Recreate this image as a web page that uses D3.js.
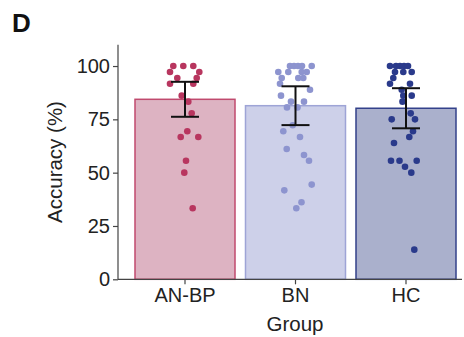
<!DOCTYPE html>
<html><head><meta charset="utf-8">
<script src="https://cdn.jsdelivr.net/npm/d3@7"></script>
<style>body{margin:0;background:#fff}svg{display:block}text{font-family:"Liberation Sans",Arial,sans-serif}</style>
</head><body>
<script>
const groups = ["AN-BP", "BN", "HC"];
const means = [84.4, 81.4, 80.2];
const sds = [8.2, 9.1, 9.4];
const yTicks = [0, 25, 50, 75, 100];
// individual accuracies and horizontal jitter (fraction of bar width)
const ptsANBP = [100,100,100,97.2,97.2,94.4,94.4,91.7,91.7,86.1,83.3,77.8,69.4,66.7,66.7,55.6,50,33.3];
const jitANBP = [-0.117,-0.017,0.083,-0.15,0.143,-0.077,0.117,-0.15,0.083,-0.033,0.033,0.067,0.023,-0.043,0.133,0.01,-0.007,0.077];
const ptsBN = [100,100,100,100,100,97.2,97.2,97.2,97.2,94.4,94.4,94.4,91.7,88.9,86.1,83.3,83.3,80.6,80.6,72.2,69.4,66.7,61.1,58.3,55.6,44.4,41.7,36.1,33.3];
const jitBN = [-0.055,-0.015,0.025,0.065,0.162,-0.172,-0.072,0.062,0.112,-0.138,0.028,0.078,-0.155,0.145,-0.145,-0.045,0.085,-0.085,0.02,-0.028,-0.122,0.045,-0.088,0.085,0.135,0.162,-0.112,0.06,0.008];
const ptsHC = [100,100,100,100,100,97.2,97.2,97.2,94.4,91.7,91.7,88.9,86.1,86.1,83.3,77.8,75,75,69.4,66.7,63.9,55.6,55.6,55.6,52.8,50,13.9];
const jitHC = [-0.16,-0.1,-0.06,-0.02,0.02,-0.11,-0.027,0.057,-0.127,-0.16,0.04,-0.043,0.057,-0.027,-0.035,0.047,-0.143,0.09,0.07,0.033,-0.12,-0.15,-0.065,0.107,-0.01,0.053,0.083];

const fills = ["#ddb3c2", "#cdd0e9", "#aab0cc"];
const strokes = ["#c04a6e", "#9ea4d6", "#33418a"];
const dotCols = ["#b8365f", "#8d94cf", "#2a3a8b"];
const pts = [ptsANBP, ptsBN, ptsHC];
const jits = [jitANBP, jitBN, jitHC];

const W = 464, H = 337;
const svg = d3.select("body").append("svg").attr("width", W).attr("height", H);

const y = d3.scaleLinear().domain([0, 110]).range([279.3, 44.7]);
const x = d3.scaleBand().domain(groups).range([124.5, 466.5]).paddingInner(0.095).paddingOuter(0.095);
const bw = x.bandwidth();

// bars
svg.selectAll("rect.bar").data(groups).enter().append("rect")
  .attr("x", d => x(d)).attr("width", bw)
  .attr("y", (d, i) => y(means[i])).attr("height", (d, i) => y(0) - y(means[i]))
  .attr("fill", (d, i) => fills[i]).attr("stroke", (d, i) => strokes[i]).attr("stroke-width", 1.5);

// dots
groups.forEach((g, i) => {
  svg.append("g").selectAll("circle").data(pts[i]).enter().append("circle")
    .attr("cx", (d, j) => x(g) + bw / 2 + jits[i][j] * bw)
    .attr("cy", d => y(d)).attr("r", 3.3).attr("fill", dotCols[i]);
});

// error bars
const eb = svg.append("g").attr("stroke", "#111").attr("stroke-width", 2);
groups.forEach((g, i) => {
  const cx = x(g) + bw / 2, lo = y(means[i] - sds[i]), hi = y(means[i] + sds[i]);
  eb.append("line").attr("x1", cx).attr("x2", cx).attr("y1", lo).attr("y2", hi);
  eb.append("line").attr("x1", cx - 14).attr("x2", cx + 14).attr("y1", lo).attr("y2", lo);
  eb.append("line").attr("x1", cx - 14).attr("x2", cx + 14).attr("y1", hi).attr("y2", hi);
});

// axes
const axCol = "#444";
const ya = svg.append("g").attr("transform", "translate(118,0)")
  .call(d3.axisLeft(y).tickValues(yTicks).tickSize(5).tickPadding(3));
ya.select(".domain").remove();
ya.selectAll("line").attr("stroke", axCol).attr("stroke-width", 1.2);
ya.selectAll("text").attr("font-size", 20).attr("fill", "#222").attr("font-family", "'Liberation Sans',Arial,sans-serif");
svg.append("line").attr("x1", 118).attr("x2", 118).attr("y1", y(110)).attr("y2", y(0))
  .attr("stroke", axCol).attr("stroke-width", 1.2);

const xa = svg.append("g").attr("transform", `translate(0,${y(0)})`)
  .call(d3.axisBottom(x).tickSize(5).tickPadding(4));
xa.select(".domain").remove();
xa.selectAll("line").attr("stroke", axCol).attr("stroke-width", 1.2);
xa.selectAll("text").attr("font-size", 20).attr("fill", "#222").attr("font-family", "'Liberation Sans',Arial,sans-serif");
svg.append("line").attr("x1", 118).attr("x2", 462).attr("y1", y(0)).attr("y2", y(0))
  .attr("stroke", axCol).attr("stroke-width", 1.2);

// labels
svg.append("text").attr("x", 295).attr("y", 331).attr("text-anchor", "middle")
  .attr("font-size", 20.5).attr("fill", "#222").text("Group");
svg.append("text").attr("transform", "translate(62,162) rotate(-90)").attr("text-anchor", "middle")
  .attr("font-size", 20.5).attr("fill", "#222").text("Accuracy (%)");
svg.append("text").attr("x", 12).attr("y", 32).attr("font-size", 26).attr("font-weight", "bold")
  .attr("fill", "#111").text("D");
</script>
</body></html>
